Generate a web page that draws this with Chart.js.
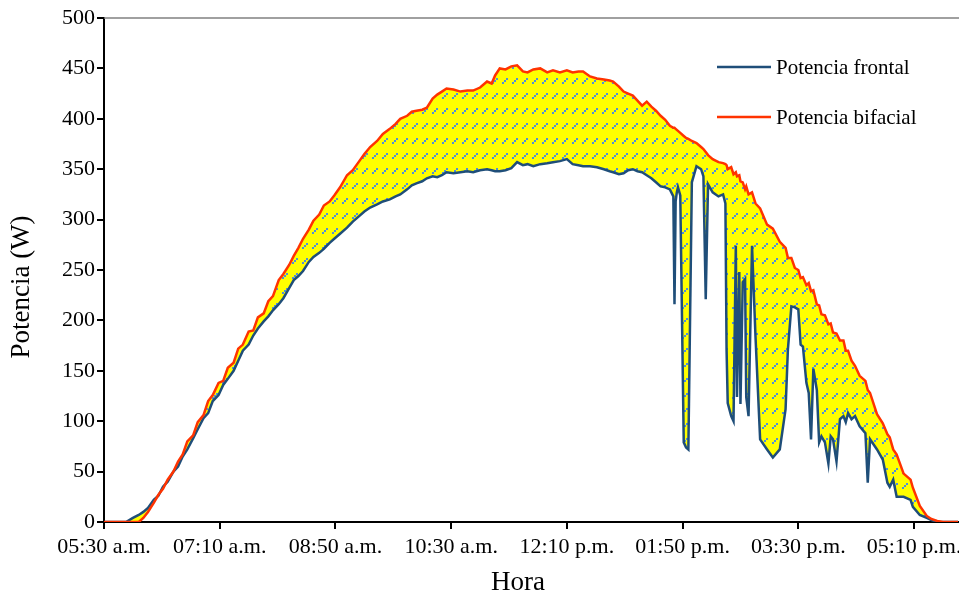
<!DOCTYPE html>
<html><head><meta charset="utf-8">
<script src="https://cdn.jsdelivr.net/npm/chart.js@4.4.1/dist/chart.umd.min.js"></script>
<style>html,body{margin:0;padding:0;background:#fff;}canvas{display:block;}</style>
</head><body>
<canvas id="c" width="959" height="596"></canvas>
<script>
// minutes since 05:30 a.m.
const minutes = [0,10,19,25,30,34,38,43,47,51,55,60,64,68,72,77,81,86,90,94,99,103,107,112,116,120,125,129,133,138,142,146,151,155,160,164,168,172,177,181,186,190,195,199,204,210,215,220,225,230,236,241,247,252,256,262,266,270,275,279,284,288,292,296,302,308,314,319,325,331,335,338,342,347,352,357,362,366,371,377,383,388,394,400,405,410,414,420,426,432,437,440,445,449,453,457,461,465,469,473,477,481,485,489,492,493,494,495,496,498,501,503,505,508,512,516,518,520,522,526,531,535,537,538,539,542,544,546,547,549,550,552,554,555,557,560,563,567,573,578,584,589,591,594,597,600,602,604,607,609,611,613,616,618,620,623,626,628,630,633,636,639,641,643,646,649,653,658,660,662,668,673,677,679,682,685,691,697,699,705,711,715,720,725,730,738];
const frontal = [0,0,0,4,7,10,14,22,26,35,40,50,55,65,72,83,92,103,108,120,126,136,142,150,160,170,176,185,192,199,204,210,216,222,232,240,244,249,258,263,267,271,277,281,286,292,298,303,308,312,315,318,320,323,325,330,334,336,338,341,343,342,344,347,346,347,348,347,349,350,349,348,348,349,351,357,354,355,353,355,356,357,358,360,355,354,353,353,352,350,348,347,345,346,349,350,348,347,344,341,337,333,332,330,323,216,318,327,332,324,79,74,72,337,353,350,343,221,335,327,323,325,316,171,118,105,100,274,124,248,117,238,241,124,105,274,184,82,72,64,72,112,171,214,213,211,176,174,138,128,82,152,131,79,85,79,58,85,82,60,102,105,99,108,102,105,95,88,39,82,72,62,39,35,42,25,25,22,15,7,4,2,0,0,0,0];
const bifacial = [0,0,0,0,0,4,10,19,27,33,42,50,60,67,80,86,99,106,120,126,138,140,153,158,172,176,189,190,203,207,219,224,240,246,255,264,272,281,290,299,305,314,318,324,332,344,349,357,365,372,378,385,390,395,400,403,407,408,409,411,420,424,427,430,429,427,428,428,431,437,435,443,450,449,452,453,447,446,449,450,446,448,446,448,446,447,447,442,440,439,438,437,432,427,425,423,418,413,417,412,408,403,399,393,391,391,390,389,388,386,383,381,380,378,376,372,370,367,364,360,357,356,355,354,350,352,345,347,343,344,338,337,330,333,325,327,316,311,295,291,278,272,262,262,252,250,242,243,235,237,229,230,216,215,206,205,196,197,188,187,180,180,170,170,160,155,145,140,131,128,107,98,87,84,72,67,48,42,34,16,6,3,1,0,0,0];
const tickLabels = ['05:30 a.m.','07:10 a.m.','08:50 a.m.','10:30 a.m.','12:10 p.m.','01:50 p.m.','03:30 p.m.','05:10 p.m.'];
const seriesNames = ['Potencia frontal','Potencia bifacial'];
const axisTitles = {x:'Hora', y:'Potencia (W)'};

const FONT = '"Liberation Serif","Times New Roman",serif';
const BLUE = '#1f4e79';
const RED = '#ff3300';

const canvas = document.getElementById('c');
const ctx = canvas.getContext('2d');

function makeHatch(){
  const t = document.createElement('canvas');
  t.width = 10; t.height = 15;
  const g = t.getContext('2d');
  g.fillStyle = '#ffff00';
  g.fillRect(0,0,10,15);
  g.fillStyle = '#4f8fdc';
  g.fillRect(6,3,2,2);
  g.fillRect(4,5,2,2);
  g.fillRect(2,7,2,2);
  return ctx.createPattern(t,'repeat');
}

const decor = {
  id:'decor',
  afterDraw(chart){
    const a = chart.chartArea, c = chart.ctx;
    c.save();
    // top border
    c.strokeStyle = '#808080';
    c.lineWidth = 1.5;
    c.beginPath();
    c.moveTo(a.left, a.top);
    c.lineTo(chart.width, a.top);
    c.stroke();
    // axis titles
    c.fillStyle = '#000';
    c.font = '27px ' + FONT;
    c.textAlign = 'center';
    c.textBaseline = 'middle';
    c.fillText(axisTitles.x, 518, 583);
    c.translate(22, 287);
    c.rotate(-Math.PI/2);
    c.fillText(axisTitles.y, 0, 0);
    c.restore();
    // legend
    const items = [{label:seriesNames[0], color:BLUE, y:67},{label:seriesNames[1], color:RED, y:117}];
    c.save();
    c.font = '21px ' + FONT;
    c.textBaseline = 'middle';
    c.textAlign = 'left';
    items.forEach(it => {
      c.strokeStyle = it.color;
      c.lineWidth = 2.5;
      c.beginPath();
      c.moveTo(717, it.y); c.lineTo(771, it.y);
      c.stroke();
      c.fillStyle = '#000';
      c.fillText(it.label, 776, it.y + 1);
    });
    c.restore();
  }
};

new Chart(ctx, {
  type:'line',
  data:{
    datasets:[
      {
        label: seriesNames[1],
        data: minutes.map((t,i)=>({x:t, y:bifacial[i]})),
        borderColor: RED,
        borderWidth: 2.5,
        pointRadius: 0,
        tension: 0,
        fill: 1,
        backgroundColor: makeHatch()
      },
      {
        label: seriesNames[0],
        data: minutes.map((t,i)=>({x:t, y:frontal[i]})),
        borderColor: BLUE,
        borderWidth: 2.5,
        pointRadius: 0,
        tension: 0,
        fill: false
      }
    ]
  },
  options:{
    responsive:false,
    devicePixelRatio:1,
    animation:false,
    layout:{padding:{top:18,right:1,left:0,bottom:0}},
    plugins:{
      legend:{display:false},
      tooltip:{enabled:false},
      filler:{drawTime:'beforeDatasetsDraw'}
    },
    scales:{
      x:{
        type:'linear',
        min:0, max:738,
        afterBuildTicks(scale){ scale.ticks = tickLabels.map((_,i)=>({value:i*100})); },
        afterFit(scale){ scale.height = 74; scale.paddingLeft = 0; scale.paddingRight = 0; },
        ticks:{
          callback:(v)=> tickLabels[Math.round(v/100)],
          color:'#000',
          font:{family:FONT, size:22},
          padding:5,
          maxRotation:0,
          autoSkip:false
        },
        grid:{drawOnChartArea:false, drawTicks:true, tickLength:7, color:'#000', lineWidth:2},
        border:{display:true, color:'#000', width:2},
        title:{display:false}
      },
      y:{
        min:0, max:500,
        afterFit(scale){ scale.width = 104; scale.paddingTop = 0; scale.paddingBottom = 0; },
        ticks:{
          stepSize:50,
          color:'#000',
          font:{family:FONT, size:22},
          padding:2
        },
        grid:{drawOnChartArea:false, drawTicks:true, tickLength:7, color:'#000', lineWidth:2},
        border:{display:true, color:'#000', width:2},
        title:{display:false}
      }
    }
  },
  plugins:[decor]
});
</script>
</body></html>
